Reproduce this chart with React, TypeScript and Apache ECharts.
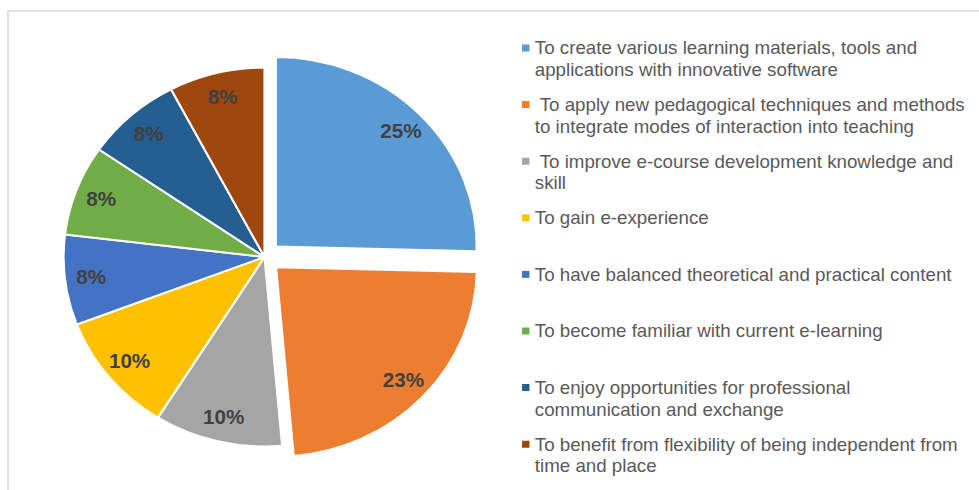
import React, { useEffect, useRef } from "react";
import * as echarts from "echarts";

const categories = [
  "To create various learning materials, tools and applications with innovative software",
  " To apply new pedagogical techniques and methods to integrate modes of interaction into teaching",
  " To improve e-course development knowledge and skill",
  "To gain e-experience",
  "To have balanced theoretical and practical content",
  "To become familiar with current e-learning",
  "To enjoy opportunities for professional communication and exchange",
  "To benefit from flexibility of being independent from time and place",
];

const legendLabels = [
  "To create various learning materials, tools and\napplications with innovative software",
  " To apply new pedagogical techniques and methods\nto integrate modes of interaction into teaching",
  " To improve e-course development knowledge and\nskill",
  "To gain e-experience",
  "To have balanced theoretical and practical content",
  "To become familiar with current e-learning",
  "To enjoy opportunities for professional\ncommunication and exchange",
  "To benefit from flexibility of being independent from\ntime and place",
];

const values = [25.4, 23.2, 10.3, 10.3, 7.7, 7.7, 7.7, 7.7];
const exploded = [true, true, false, false, false, false, false, false];
const colors = ["#5B9BD5", "#ED7D31", "#A5A5A5", "#FFC000", "#4472C4", "#70AD47", "#255E91", "#9E480E"];

// the reference picture is stretched horizontally
const STRETCH = 1.06;
const W = 979;
const H = 490;
const CENTER = [249.5, 257];
const R = 189.5;
const FONT = "'Liberation Sans', Arial, sans-serif";
// square marker on the first text line of a two-line legend entry
const TWO_LINE_ICON = "path://M0,0L7,0L7,7L0,7Z M0,29L7,29L7,29Z";

export default function App() {
  const ref = useRef<HTMLDivElement>(null);
  useEffect(() => {
    if (!ref.current) return;
    const chart = echarts.init(ref.current, undefined, { renderer: "svg" });
    const data = categories.map((name, i) => ({
      name,
      value: values[i],
      selected: exploded[i],
      itemStyle: { color: colors[i] },
    }));
    const labelData = categories.map((name, i) => ({
      name,
      value: values[i],
      selected: exploded[i],
    }));
    const legends = categories.map((name, i) => {
      const lines = legendLabels[i].split("\n").length;
      const centerY = 48 + i * 56.6;
      return {
        show: true,
        data: [name],
        orient: "vertical",
        left: 492.5,
        top: centerY - 11,
        padding: 0,
        icon: lines === 2 ? TWO_LINE_ICON : "rect",
        itemWidth: 7,
        itemHeight: lines === 2 ? 29 : 7,
        selectedMode: false,
        itemStyle: { borderWidth: 0 },
        formatter: () => legendLabels[i],
        textStyle: {
          color: "#595959",
          fontSize: 17.7,
          fontFamily: FONT,
          lineHeight: 22,
        },
      };
    });
    chart.setOption({
      animation: false,
      backgroundColor: "#ffffff",
      graphic: [
        {
          type: "rect",
          shape: { x: 7.6, y: 11, width: 1200, height: 700 },
          style: { fill: "none", stroke: "#D9D9D9", lineWidth: 1.5 },
          silent: true,
          z: -10,
        },
      ],
      legend: legends,
      series: [
        {
          type: "pie",
          center: CENTER,
          radius: [0, R],
          startAngle: 90,
          clockwise: true,
          selectedMode: "multiple",
          selectedOffset: 15,
          avoidLabelOverlap: false,
          label: { show: false },
          labelLine: { show: false },
          itemStyle: { borderColor: "#ffffff", borderWidth: 2 },
          emphasis: { disabled: true },
          data,
        },
        {
          type: "pie",
          center: CENTER,
          radius: [134, R],
          startAngle: 90,
          clockwise: true,
          selectedMode: "multiple",
          selectedOffset: 15,
          silent: true,
          avoidLabelOverlap: false,
          percentPrecision: 0,
          itemStyle: { color: "rgba(0,0,0,0)", borderWidth: 0 },
          label: {
            show: true,
            position: "inside",
            formatter: "{d}%",
            color: "#404040",
            fontSize: 19.5,
            fontWeight: "bold",
            fontFamily: FONT,
          },
          labelLine: { show: false },
          emphasis: { disabled: true },
          data: labelData,
        },
      ],
    });
    return () => chart.dispose();
  }, []);
  return (
    <div style={{ position: "absolute", left: 0, top: 0, width: W, height: H, overflow: "hidden" }}>
      <div
        ref={ref}
        style={{
          width: W / STRETCH,
          height: H,
          transform: `scaleX(${STRETCH})`,
          transformOrigin: "0 0",
        }}
      />
    </div>
  );
}
